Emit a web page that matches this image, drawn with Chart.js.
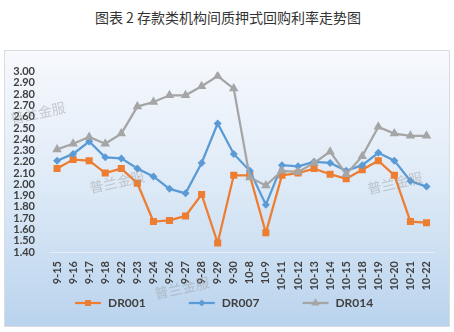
<!DOCTYPE html>
<html>
<head>
<meta charset="utf-8">
<script src="https://cdn.jsdelivr.net/npm/chart.js@4/dist/chart.umd.min.js"></script>
<style>
  body { margin: 0; background: #ffffff; width: 454px; height: 332px; position: relative; overflow: hidden; }
  #title {
    position: absolute; left: 0; top: 7px; width: 456px; text-align: center;
    font-family: "Noto Sans CJK SC", sans-serif; font-size: 14px; color: #333333; line-height: 20px;
  }
  #box {
    position: absolute; left: 4px; top: 50px; width: 444px; height: 275px;
    border: 1px solid #d9dde3;
    background: linear-gradient(to bottom, #f7f9fd 0%, #e3edf8 40%, #cfe1f3 70%, #b9d3ed 100%);
  }
  #wrap { position: absolute; left: 0; top: 0; width: 444px; height: 275px; }
</style>
</head>
<body>
<div id="title">图表 2 存款类机构间质押式回购利率走势图</div>
<div id="box"><div id="wrap"><canvas id="rateChart"></canvas></div></div>
<script>
// --- data ---
const dates = ['9-15','9-16','9-17','9-18','9-22','9-23','9-24','9-26','9-27','9-28','9-29','9-30',
  '10-8','10-9','10-11','10-12','10-13','10-14','10-15','10-18','10-19','10-20','10-21','10-22'];
const dr001 = [2.14,2.22,2.21,2.10,2.14,2.01,1.67,1.68,1.72,1.91,1.48,2.08,
  2.08,1.57,2.08,2.10,2.14,2.09,2.05,2.13,2.21,2.08,1.67,1.66];
const dr007 = [2.21,2.27,2.38,2.24,2.23,2.14,2.07,1.96,1.92,2.19,2.54,2.27,
  2.12,1.82,2.17,2.16,2.20,2.19,2.12,2.17,2.28,2.21,2.03,1.98];
const dr014 = [2.31,2.36,2.42,2.36,2.45,2.69,2.73,2.79,2.79,2.87,2.96,2.85,
  2.06,1.99,2.12,2.11,2.19,2.29,2.09,2.25,2.51,2.45,2.43,2.43];
const yMin = 1.40, yMax = 3.00, yStep = 0.10;

const textColor = '#404040';

// legend icon: short line with the marker in the middle, drawn at the right end of a wide canvas
function legendIcon(color, style, radius) {
  const c = document.createElement('canvas');
  c.width = 65; c.height = 14;
  const g = c.getContext('2d');
  g.strokeStyle = color;
  g.lineWidth = 2.25;
  g.beginPath(); g.moveTo(38, 7); g.lineTo(64, 7); g.stroke();
  g.fillStyle = color;
  Chart.helpers.drawPoint(g, { pointStyle: style, radius: radius, borderWidth: 0, rotation: 0 }, 51, 7);
  g.fill();
  return c;
}

// watermark text
const watermark = {
  id: 'watermark',
  afterDraw(chart) {
    const g = chart.ctx;
    const spots = [[33, 62], [112, 131], [390, 132], [177, 237]];
    g.save();
    g.font = '14px "Noto Sans CJK SC"';
    g.fillStyle = 'rgba(150,150,150,0.45)';
    g.textAlign = 'center';
    g.textBaseline = 'middle';
    spots.forEach(([x, y]) => {
      g.save();
      g.translate(x, y);
      g.rotate(-0.22);
      g.fillText('普兰金服', 0, 0);
      g.restore();
    });
    g.restore();
  }
};

// push the legend row right so it starts under the plot
const legendShift = {
  id: 'legendShift',
  afterLayout(chart) {
    chart.legend.left = 27;
  }
};

const series = [
  { label: 'DR001', data: dr001, color: '#ED7D31', style: 'rect', radius: 5, order: 2 },
  { label: 'DR007', data: dr007, color: '#5B9BD5', style: 'rectRot', radius: 4, order: 1 },
  { label: 'DR014', data: dr014, color: '#A5A5A5', style: 'triangle', radius: 5.5, order: 0 }
];

const chart = new Chart(document.getElementById('rateChart'), {
  type: 'line',
  data: {
    labels: dates,
    datasets: series.map(s => ({
      label: s.label,
      data: s.data,
      order: s.order,
      borderColor: s.color,
      backgroundColor: s.color,
      borderWidth: 2.25,
      tension: 0,
      pointStyle: s.style,
      pointRadius: s.radius,
      pointBorderWidth: 0,
      pointHoverRadius: s.radius
    }))
  },
  options: {
    responsive: true,
    maintainAspectRatio: false,
    animation: false,
    layout: { padding: { left: 0, right: 14, top: 14, bottom: 7 } },
    scales: {
      x: {
        offset: true,
        grid: { display: false, drawTicks: false },
        border: { display: true, color: 'rgba(255,255,255,0.45)', width: 1 },
        ticks: {
          autoSkip: false, minRotation: 90, maxRotation: 90, padding: 9,
          color: textColor, font: { family: 'Lato', size: 11, weight: 'bold' }
        },
        afterFit: scale => { scale.height = 40; }
      },
      y: {
        min: yMin, max: yMax,
        grid: { display: false, drawTicks: false },
        border: { display: false },
        ticks: {
          stepSize: yStep, padding: 14, autoSkip: false,
          color: textColor, font: { family: 'Lato', size: 11, weight: 'bold' },
          callback: v => Number(v).toFixed(2)
        },
        afterFit: scale => { scale.width = 44; }
      }
    },
    plugins: {
      tooltip: { enabled: false },
      legend: {
        position: 'bottom',
        align: 'start',
        labels: {
          usePointStyle: true,
          pointStyleWidth: 65,
          padding: 5,
          color: textColor,
          font: { family: 'Lato', size: 12, weight: 'bold' },
          generateLabels: ch => ch.data.datasets.map((ds, i) => ({
            text: ds.label,
            datasetIndex: i,
            fontColor: textColor,
            pointStyle: legendIcon(series[i].color, series[i].style, series[i].radius * 0.8),
            lineWidth: 0,
            strokeStyle: 'transparent',
            fillStyle: 'transparent',
            hidden: false
          }))
        }
      }
    }
  },
  plugins: [watermark, legendShift]
});
</script>
</body>
</html>
